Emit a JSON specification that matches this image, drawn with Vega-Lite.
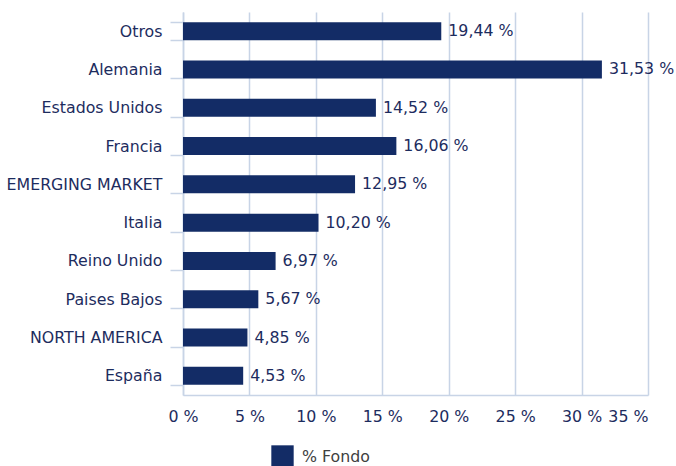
{
  "$schema": "https://vega.github.io/schema/vega-lite/v6.json",
  "autosize": "none",
  "width": 465,
  "height": 383,
  "padding": {"left": 183, "top": 12, "right": 28, "bottom": 71},
  "background": "white",
  "config": {
    "font": "DejaVu Sans",
    "view": {"stroke": null},
    "axis": {"labelFont": "DejaVu Sans", "labelFontSize": 15.8, "labelColor": "#1d2c5e"}
  },
  "data": {
    "values": [
      {"pais": "Otros", "valor": 19.44},
      {"pais": "Alemania", "valor": 31.53},
      {"pais": "Estados Unidos", "valor": 14.52},
      {"pais": "Francia", "valor": 16.06},
      {"pais": "EMERGING MARKET", "valor": 12.95},
      {"pais": "Italia", "valor": 10.20},
      {"pais": "Reino Unido", "valor": 6.97},
      {"pais": "Paises Bajos", "valor": 5.67},
      {"pais": "NORTH AMERICA", "valor": 4.85},
      {"pais": "España", "valor": 4.53}
    ]
  },
  "transform": [
    {"calculate": "replace(format(datum.valor, '.2f'), '.', ',') + ' %'", "as": "etiqueta"},
    {"calculate": "'% Fondo'", "as": "serie"}
  ],
  "encoding": {
    "y": {
      "field": "pais",
      "type": "nominal",
      "sort": null,
      "scale": {"paddingInner": 0.53, "paddingOuter": 0.265},
      "axis": {
        "title": null,
        "domainColor": "#c8d4e6",
        "domainWidth": 1.5,
        "tickColor": "#c8d4e6",
        "tickWidth": 1.5,
        "tickSize": 13,
        "tickBand": "extent",
        "labelPadding": 8,
        "grid": false
      }
    },
    "x": {
      "field": "valor",
      "type": "quantitative",
      "scale": {"domain": [0, 35], "nice": false},
      "axis": {
        "title": null,
        "values": [0, 5, 10, 15, 20, 25, 30, 35],
        "labelExpr": "datum.value + ' %'",
        "labelAlign": {"condition": {"test": "datum.value == 35", "value": "right"}, "value": "center"},
        "labelBound": false,
        "labelPadding": 14,
        "ticks": false,
        "domainColor": "#c8d4e6",
        "domainWidth": 1.5,
        "grid": true,
        "gridColor": "#c8d4e6",
        "gridWidth": 1.5
      }
    }
  },
  "layer": [
    {
      "mark": {"type": "bar", "color": "#132c66"},
      "encoding": {
        "color": {
          "field": "serie",
          "type": "nominal",
          "scale": {"range": ["#132c66"]},
          "legend": {
            "title": null,
            "orient": "none",
            "legendX": 88,
            "legendY": 433,
            "symbolType": "square",
            "symbolSize": 500,
            "symbolStrokeWidth": 0,
            "labelFontSize": 15.8,
            "labelColor": "#404040",
            "labelFont": "DejaVu Sans",
            "labelOffset": 8
          }
        }
      }
    },
    {
      "mark": {"type": "text", "align": "left", "baseline": "middle", "dx": 7, "fontSize": 15.8, "color": "#1d2c5e", "font": "DejaVu Sans"},
      "encoding": {"text": {"field": "etiqueta"}}
    }
  ]
}
